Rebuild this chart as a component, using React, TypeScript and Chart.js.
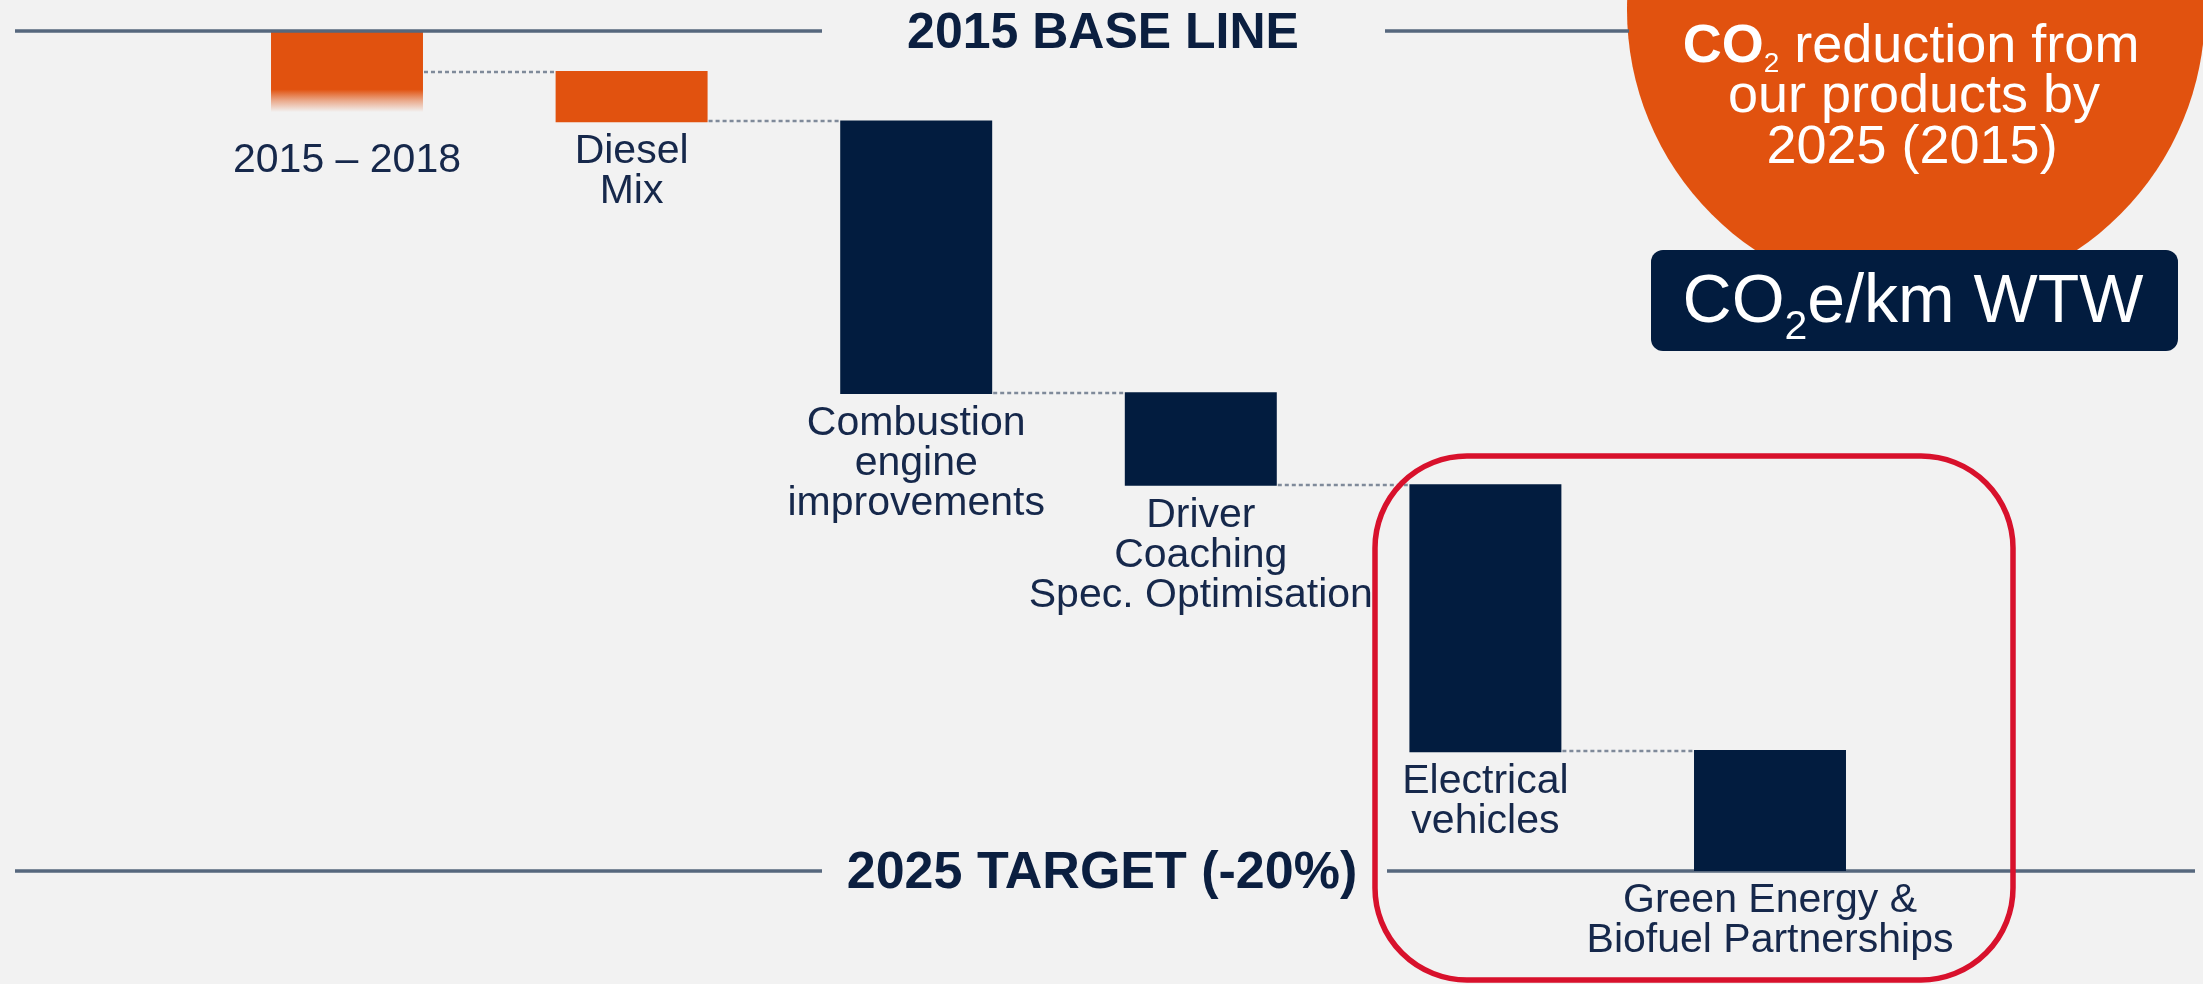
import React, { useEffect, useRef } from "react";
import { Chart, registerables } from "chart.js";

Chart.register(...registerables);

// ---------- data ----------
const categories: string[][] = [
  ["2015 – 2018"],
  ["Diesel", "Mix"],
  ["Combustion", "engine", "improvements"],
  ["Driver", "Coaching", "Spec. Optimisation"],
  ["Electrical", "vehicles"],
  ["Green Energy &", "Biofuel Partnerships"],
];
// index values, 2015 baseline = 100, 2025 target = 80 (-20%)
const barStart = [100, 99.05, 97.87, 91.4, 89.21, 82.88];
const barEnd = [98.07, 97.83, 91.36, 89.17, 82.83, 80.0];
const barKind = ["achieved", "achieved", "planned", "planned", "planned", "planned"];
const baseLineValue = 100;
const targetValue = 80;
const baseLineTitle = "2015 BASE LINE";
const targetTitle = "2025 TARGET (-20%)";
const badgeLines = ["reduction from", "our products by", "2025 (2015)"];
const unitLabel = ["CO", "2", "e/km WTW"];

// ---------- styles ----------
const ORANGE = "#e1520f";
const NAVY = "#021c3f";
const TEXT = "#16284b";
const HEAD = "#0b1f40";
const LINE = "#56677d";
const DOTS = "#7f8a9a";
const RED = "#d8112c";
const BG = "#f2f2f2";
const FONT = "'Liberation Sans', Arial, Helvetica, sans-serif";

type Run = { text: string; font: string; dy: number };

function drawRuns(ctx: CanvasRenderingContext2D, runs: Run[], cx: number, y: number) {
  let total = 0;
  const widths = runs.map((r) => {
    ctx.font = r.font;
    const w = ctx.measureText(r.text).width;
    total += w;
    return w;
  });
  let x = cx - total / 2;
  ctx.textAlign = "left";
  runs.forEach((r, i) => {
    ctx.font = r.font;
    ctx.fillText(r.text, x, y + r.dy);
    x += widths[i];
  });
}

function roundRectPath(ctx: CanvasRenderingContext2D, x: number, y: number, w: number, h: number, r: number) {
  ctx.beginPath();
  ctx.moveTo(x + r, y);
  ctx.lineTo(x + w - r, y);
  ctx.arcTo(x + w, y, x + w, y + r, r);
  ctx.lineTo(x + w, y + h - r);
  ctx.arcTo(x + w, y + h, x + w - r, y + h, r);
  ctx.lineTo(x + r, y + h);
  ctx.arcTo(x, y + h, x, y + h - r, r);
  ctx.lineTo(x, y + r);
  ctx.arcTo(x, y, x + r, y, r);
  ctx.closePath();
}

function hLine(ctx: CanvasRenderingContext2D, x1: number, x2: number, y: number) {
  ctx.beginPath();
  ctx.moveTo(x1, y);
  ctx.lineTo(x2, y);
  ctx.stroke();
}

const decorPlugin = {
  id: "decor",
  beforeDraw(chart: any) {
    const { ctx, width, height } = chart;
    const ys = chart.scales.y;
    ctx.save();
    ctx.fillStyle = BG;
    ctx.fillRect(0, 0, width, height);

    // target line (under bars)
    const yT = Math.round(ys.getPixelForValue(targetValue));
    ctx.strokeStyle = LINE;
    ctx.lineWidth = 3.5;
    hLine(ctx, 15, 822, yT);
    hLine(ctx, 1387, 2195, yT);

    // orange badge circle
    ctx.fillStyle = ORANGE;
    ctx.beginPath();
    ctx.arc(1916, 10, 289, 0, Math.PI * 2);
    ctx.fill();

    // navy unit box
    ctx.fillStyle = NAVY;
    roundRectPath(ctx, 1651, 250, 527, 101, 12);
    ctx.fill();
    ctx.restore();
  },
  afterDatasetsDraw(chart: any) {
    const { ctx } = chart;
    const ys = chart.scales.y;
    const meta = chart.getDatasetMeta(0);
    ctx.save();

    // base line (over bars)
    const yB = Math.round(ys.getPixelForValue(baseLineValue));
    const yT = Math.round(ys.getPixelForValue(targetValue));
    ctx.strokeStyle = LINE;
    ctx.lineWidth = 3.5;
    hLine(ctx, 15, 822, yB);
    hLine(ctx, 1385, 1629, yB);

    // dotted connectors
    ctx.strokeStyle = DOTS;
    ctx.lineWidth = 2.5;
    ctx.setLineDash([4, 3]);
    for (let i = 0; i < meta.data.length - 1; i++) {
      const a = meta.data[i];
      const b = meta.data[i + 1];
      const y = Math.round(ys.getPixelForValue(barStart[i + 1])) + 1;
      hLine(ctx, a.x + a.width / 2 + 1, b.x - b.width / 2, y);
    }
    ctx.setLineDash([]);

    // category labels
    ctx.fillStyle = TEXT;
    ctx.font = `41px ${FONT}`;
    ctx.textAlign = "center";
    ctx.textBaseline = "alphabetic";
    meta.data.forEach((bar: any, i: number) => {
      const bottom = ys.getPixelForValue(barEnd[i]);
      const first = bottom + 41 + (i === 0 ? 19 : 0);
      categories[i].forEach((line, j) => {
        ctx.fillText(line, bar.x, first + j * 40);
      });
    });

    // headings
    ctx.fillStyle = HEAD;
    ctx.textAlign = "center";
    ctx.font = `bold 50px ${FONT}`;
    ctx.fillText(baseLineTitle, 1103, yB + 17);
    ctx.font = `bold 52px ${FONT}`;
    ctx.fillText(targetTitle, 1102, yT + 17);

    // badge text
    ctx.fillStyle = "#ffffff";
    drawRuns(
      ctx,
      [
        { text: "CO", font: `bold 54px ${FONT}`, dy: 0 },
        { text: "2", font: `28px ${FONT}`, dy: 10 },
        { text: " " + badgeLines[0], font: `54px ${FONT}`, dy: 0 },
      ],
      1911,
      62
    );
    ctx.font = `54px ${FONT}`;
    ctx.textAlign = "center";
    ctx.fillText(badgeLines[1], 1914, 112);
    ctx.fillText(badgeLines[2], 1912, 163);

    // unit box text
    drawRuns(
      ctx,
      [
        { text: unitLabel[0], font: `68px ${FONT}`, dy: 0 },
        { text: unitLabel[1], font: `41px ${FONT}`, dy: 17 },
        { text: unitLabel[2], font: `68px ${FONT}`, dy: 0 },
      ],
      1913,
      322
    );

    // red highlight frame
    ctx.strokeStyle = RED;
    ctx.lineWidth = 5.5;
    roundRectPath(ctx, 1375, 456, 638, 524, 92);
    ctx.stroke();

    ctx.restore();
  },
};

export default function App() {
  const ref = useRef<HTMLCanvasElement | null>(null);

  useEffect(() => {
    document.body.style.margin = "0";
    document.body.style.background = BG;
    const canvas = ref.current!;
    const W = 2203;
    const H = 984;
    // y scale: 42 px per index point, base line at y=31
    const pxPerUnit = 42;
    const yMax = baseLineValue + 31 / pxPerUnit;
    const yMin = yMax - H / pxPerUnit;
    const catW = 284.6;
    const left = 204.7;
    const right = W - left - catW * categories.length;

    const chart = new Chart(canvas, {
      type: "bar",
      data: {
        labels: categories.map((c) => c.join(" ")),
        datasets: [
          {
            data: barStart.map((s, i) => [s, barEnd[i]]) as any,
            backgroundColor: (c: any) => {
              const i = c.dataIndex;
              if (barKind[i] !== "achieved") return NAVY;
              if (i !== 0) return ORANGE;
              const ys = c.chart.scales.y;
              if (!ys) return ORANGE;
              const y0 = ys.getPixelForValue(barStart[0]);
              const y1 = ys.getPixelForValue(barEnd[0]);
              if (!isFinite(y0) || !isFinite(y1) || y0 === y1) return ORANGE;
              const g = c.chart.ctx.createLinearGradient(0, y0, 0, y1);
              g.addColorStop(0, ORANGE);
              g.addColorStop(0.72, ORANGE);
              g.addColorStop(0.86, "rgba(225,82,15,0.45)");
              g.addColorStop(1, "rgba(225,82,15,0)");
              return g;
            },
            borderWidth: 0,
            borderSkipped: false,
            barPercentage: 0.534,
            categoryPercentage: 1,
          },
        ],
      },
      options: {
        responsive: false,
        animation: false,
        devicePixelRatio: 1,
        layout: { padding: { left, right, top: 0, bottom: 0 } },
        plugins: {
          legend: { display: false },
          title: { display: false },
          tooltip: { enabled: false },
        },
        scales: {
          x: { display: false, offset: true, grid: { display: false } },
          y: { display: false, min: yMin, max: yMax, grid: { display: false } },
        },
      },
      plugins: [decorPlugin],
    });
    return () => chart.destroy();
  }, []);

  return (
    <div style={{ width: 2203, height: 984, background: BG }}>
      <canvas ref={ref} width={2203} height={984} style={{ display: "block", width: 2203, height: 984 }} />
    </div>
  );
}
